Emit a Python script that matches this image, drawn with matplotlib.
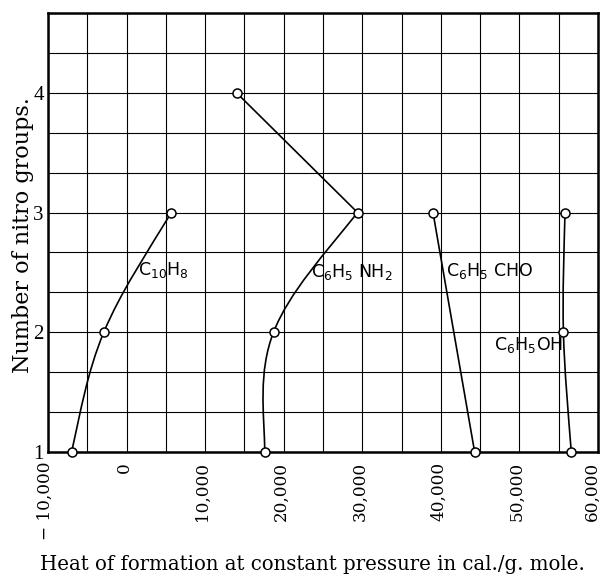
import numpy as np
import matplotlib
matplotlib.use('Agg')
import matplotlib.pyplot as plt
import matplotlib.transforms as mtransforms
from matplotlib.path import Path
from matplotlib.patches import PathPatch

# number of nitro groups on each point
groups = [1, 2, 3]
naphthalene = [-7000, -2900, 5700]        # C10H8
aniline = [17600, 18700, 29400]           # C6H5NH2
aniline_tetra = [14000, 29400]            # 4 -> 3 nitro groups
aniline_tetra_groups = [4, 3]
benzaldehyde = [44300, 39000]             # C6H5CHO
benzaldehyde_groups = [1, 3]
phenol = [56600, 55600, 55800]            # C6H5OH

xticks = [-10000, 0, 10000, 20000, 30000, 40000, 50000, 60000]
yticks = [1, 2, 3, 4]

curve_labels = [r'C$_{10}$H$_8$', r'C$_6$H$_5$ NH$_2$', r'C$_6$H$_5$ CHO', r'C$_6$H$_5$OH']
label_x = [1500, 23500, 40700, 46700]
label_y = [2.52, 2.50, 2.51, 1.89]


def smooth_curve(ax, xs, ys, w=0.3):
	# cubic curve through the points (catmull-rom style tangents)
	P = np.column_stack([xs, ys]).astype(float)
	m = np.zeros_like(P)
	m[1:-1] = (P[2:] - P[:-2]) / 2
	m[0] = (P[1] - P[0]) + w * ((P[1] - P[0]) - m[1])
	m[-1] = (P[-1] - P[-2]) + w * ((P[-1] - P[-2]) - m[-2])
	verts = [P[0]]
	codes = [Path.MOVETO]
	for i in range(len(P) - 1):
		verts += [P[i] + m[i] / 3, P[i + 1] - m[i + 1] / 3, P[i + 1]]
		codes += [Path.CURVE4] * 3
	ax.add_patch(PathPatch(Path(verts, codes), fill=False, ec='black', lw=1.2, zorder=3))


def points(ax, xs, ys):
	ax.plot(xs, ys, 'o', mfc='white', mec='black', ms=6.5, mew=1.1, clip_on=False, zorder=5)


def fmt(v):
	if v < 0:
		return '\u2212 ' + format(-v, ',')
	return format(v, ',')


fig = plt.figure(figsize=(6.04, 5.76), dpi=100)
ax = fig.add_axes([48 / 604, 124 / 576, 550 / 604, 439 / 576])

smooth_curve(ax, naphthalene, groups)
points(ax, naphthalene, groups)

smooth_curve(ax, aniline, groups)
points(ax, aniline, groups)
ax.plot(aniline_tetra, aniline_tetra_groups, color='black', lw=1.2, zorder=3)
points(ax, aniline_tetra[:1], aniline_tetra_groups[:1])

ax.plot(benzaldehyde, benzaldehyde_groups, color='black', lw=1.2, zorder=3)
points(ax, benzaldehyde, benzaldehyde_groups)

smooth_curve(ax, phenol, groups)
points(ax, phenol, groups)

for txt, lx, ly in zip(curve_labels, label_x, label_y):
	ax.text(lx, ly, txt, ha='left', va='center', fontsize=12.5, family='DejaVu Sans', zorder=4)

ax.set_xlim(-10000, 60000)
ax.set_ylim(1, 1 + 11 / 3)
ax.set_xticks(xticks)
ax.set_xticklabels([])
# x tick labels drawn by hand so they can sit a little left of the grid lines
base = mtransforms.blended_transform_factory(ax.transData, ax.transAxes)
for i, v in enumerate(xticks):
	dx = -6 if i == len(xticks) - 1 else -2.5
	tr = base + mtransforms.ScaledTranslation(dx / 100, -10 / 100, fig.dpi_scale_trans)
	ax.text(v, 0, fmt(v), transform=tr, rotation=90, va='top', ha='center',
		fontsize=12.2, family='DejaVu Serif', clip_on=False)
ax.set_xticks(range(-10000, 60001, 5000), minor=True)
ax.set_yticks(yticks)
ax.set_yticklabels([str(v) for v in yticks], fontsize=15, family='Liberation Serif')
ax.set_yticks([1 + i / 3 for i in range(12)], minor=True)
ax.tick_params(which='both', length=0)
ax.tick_params(axis='y', pad=3)
ax.grid(which='both', color='black', lw=0.8)
ax.set_axisbelow(True)
for s in ax.spines.values():
	s.set_linewidth(1.8)

fig.text(312 / 604, 1 - 570 / 576, 'Heat of formation at constant pressure in cal./g. mole.',
	ha='center', va='baseline', fontsize=14.2, family='DejaVu Serif')
fig.text(23 / 604, 1 - 235 / 576, 'Number of nitro groups.', rotation=90,
	ha='center', va='center', fontsize=16, family='DejaVu Serif')

fig.savefig('out.png', dpi=100)
